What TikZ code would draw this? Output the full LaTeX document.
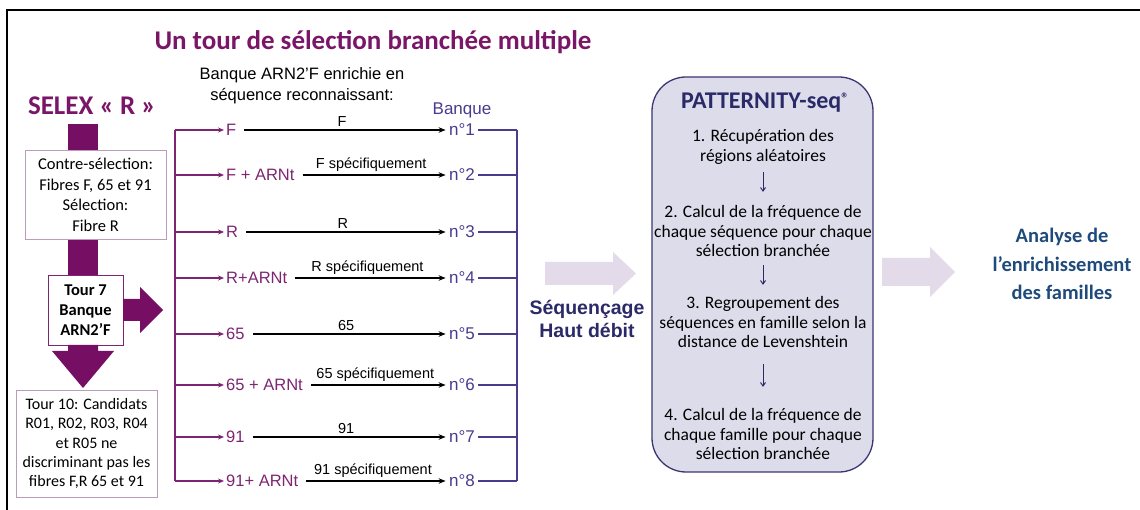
\documentclass[tikz,border=0pt]{standalone}
\usepackage{fontspec}
\setmainfont{Carlito}
\newfontfamily\arialfont{Liberation Sans}
\usepackage{tikz}
\usetikzlibrary{arrows.meta,positioning,calc}
\definecolor{selexpurple}{HTML}{7A1667}
\definecolor{barpurple}{HTML}{760F63}
\definecolor{rowpurple}{HTML}{7D2572}
\definecolor{lightframe}{HTML}{BC9CBC}
\definecolor{banqueblue}{HTML}{4B3A8E}
\definecolor{pattfill}{HTML}{DDDCEB}
\definecolor{pattline}{HTML}{3B3570}
\definecolor{navytext}{HTML}{2B2A68}
\definecolor{analyseblue}{HTML}{1F4A7C}
\definecolor{palearrow}{HTML}{E3DBE9}

\begin{document}
\begin{tikzpicture}[x=1pt,y=-1pt,
  sbox/.style={draw=lightframe,fill=white,line width=0.8pt,align=center,inner sep=2pt,
    font=\fontsize{16.5}{20.6}\selectfont},
  tourbox/.style={draw=rowpurple,fill=white,line width=0.8pt,align=center,inner sep=2pt,
    font=\bfseries\fontsize{16.5}{20}\selectfont},
  rowlab/.style={anchor=west,inner sep=2pt,text=rowpurple,font=\arialfont\fontsize{16.5}{19}\selectfont},
  numlab/.style={text=banqueblue,font=\arialfont\fontsize{17}{19}\selectfont},
  arrlab/.style={midway,above=2pt,inner sep=1pt,font=\arialfont\fontsize{14.5}{16}\selectfont},
  branch/.style={draw=rowpurple,line width=1.2pt,-{Stealth[length=6pt,width=5pt]}},
  selarr/.style={draw=black,line width=1.2pt,-{Stealth[length=7pt,width=5.5pt]}},
  collect/.style={draw=banqueblue,line width=1.2pt},
  steptxt/.style={align=center,inner sep=0pt,text=black,font=\fontsize{17.5}{19.8}\selectfont},
  stepar/.style={draw=navytext,line width=1pt,-{Straight Barb[length=3.5pt,width=5pt]}},
  fat/.style={fill=barpurple},
  pale/.style={fill=palearrow}]
\useasboundingbox (0,0) rectangle (1140,510);
\draw[line width=1.3pt] (7,510) -- (7,10) -- (1140,10);
% left column: SELEX
\node[text=selexpurple,font=\bfseries\fontsize{27}{30}\selectfont] (title) at (373,42) {Un tour de sélection branchée multiple};
\node[text=selexpurple,font=\bfseries\fontsize{27}{30}\selectfont] (selex) at (92,106) {SELEX « R »};
\fill[fat] (68,124) rectangle (98,152);
\fill[fat] (68,238) rectangle (98,277);
\node[sbox,minimum width=141,minimum height=89] (contre) at (95.5,195) {Contre-sélection:\\Fibres F, 65 et 91\\Sélection:\\Fibre R};
\node[tourbox,minimum width=75,minimum height=70] (tour7) at (85.5,310) {Tour 7\\Banque\\ARN2’F};
\fill[fat] (123,299) -- (140,299) -- (140,287) -- (163,310) -- (140,333) -- (140,321) -- (123,321) -- cycle;
\fill[fat] (68,345) -- (98,345) -- (98,351) -- (114,351) -- (83,388) -- (52,351) -- (68,351) -- cycle;
\node[sbox,minimum width=141,minimum height=107,font=\fontsize{16}{19.3}\selectfont] (tour10) at (86.5,443.5) {Tour 10: Candidats\\R01, R02, R03, R04\\et R05 ne\\discriminant pas les\\fibres F,R 65 et 91};
% branched selections
\node[align=center,font=\arialfont\fontsize{16.5}{21}\selectfont] (head) at (302,86) {Banque ARN2’F enrichie en\\séquence reconnaissant:};
\node[numlab] (banque) at (462,110) {Banque};
\coordinate (ltop) at (175,130);
\coordinate (rbar) at (517,130);
\foreach \i/\y/\lab/\txt in {1/130/F/F, 2/175/F + ARNt/F spécifiquement, 3/232/R/R, 4/278/R+ARNt/R spécifiquement,
    5/334/65/65, 6/385/65 + ARNt/65 spécifiquement, 7/437/91/91, 8/481/91+ ARNt/91 spécifiquement}{
  \coordinate (brk\i) at (175,\y);
  \node[rowlab] (lab\i) at (224,\y) {\lab};
  \node[numlab] (num\i) at (462,\y) {n°\i};
  \draw[branch] (brk\i) -- (lab\i.west);
  \draw[selarr,shorten <=6pt] (lab\i.east) -- (num\i.west) node[arrlab] {\txt};
  \draw[collect] (num\i.east) -- (num\i.east -| rbar);
}
\draw[draw=rowpurple,line width=1.2pt] (ltop) -- (brk8);
\draw[collect] (rbar) -- (rbar |- num8.east);
% sequencing
\fill[pale] (545,262) -- (613,262) -- (613,252) -- (636,273.5) -- (613,295) -- (613,285) -- (545,285) -- cycle;
\node[align=center,text=navytext,font=\arialfont\bfseries\fontsize{19.5}{23}\selectfont] (seq) at (587,319) {Séquençage\\Haut débit};
% PATTERNITY-seq
\node[draw=pattline,fill=pattfill,line width=1.3pt,rounded corners=34,minimum width=221,minimum height=395] (patt) at (762.5,274.5) {};
\node[text=navytext,font=\bfseries\fontsize{24}{26}\selectfont] (pname) at (765,103) {PATTERNITY-seq\raisebox{5pt}{\fontsize{15}{15}\selectfont ®}};
\node[steptxt] (s1) at (763,147) {1. Récupération des\\régions aléatoires};
\node[steptxt] (s2) at (763,231) {2. Calcul de la fréquence de\\chaque séquence pour chaque\\sélection branchée};
\node[steptxt] (s3) at (763,322) {3. Regroupement des\\séquences en famille selon la\\distance de Levenshtein};
\node[steptxt] (s4) at (763,434) {4. Calcul de la fréquence de\\chaque famille pour chaque\\sélection branchée};
\draw[stepar,shorten <=7pt,shorten >=13pt] (s1) -- (s2);
\draw[stepar,shorten <=8pt,shorten >=11pt] (s2) -- (s3);
\draw[stepar,shorten <=16pt,shorten >=21pt] (s3) -- (s4);
% analysis
\fill[pale] (882,258) -- (930,258) -- (930,247) -- (955,272) -- (930,297) -- (930,286) -- (882,286) -- cycle;
\node[align=center,text=analyseblue,font=\bfseries\fontsize{20.5}{28.5}\selectfont] (ana) at (1062,264) {Analyse de\\l’enrichissement\\des familles};
\end{tikzpicture}
\end{document}
